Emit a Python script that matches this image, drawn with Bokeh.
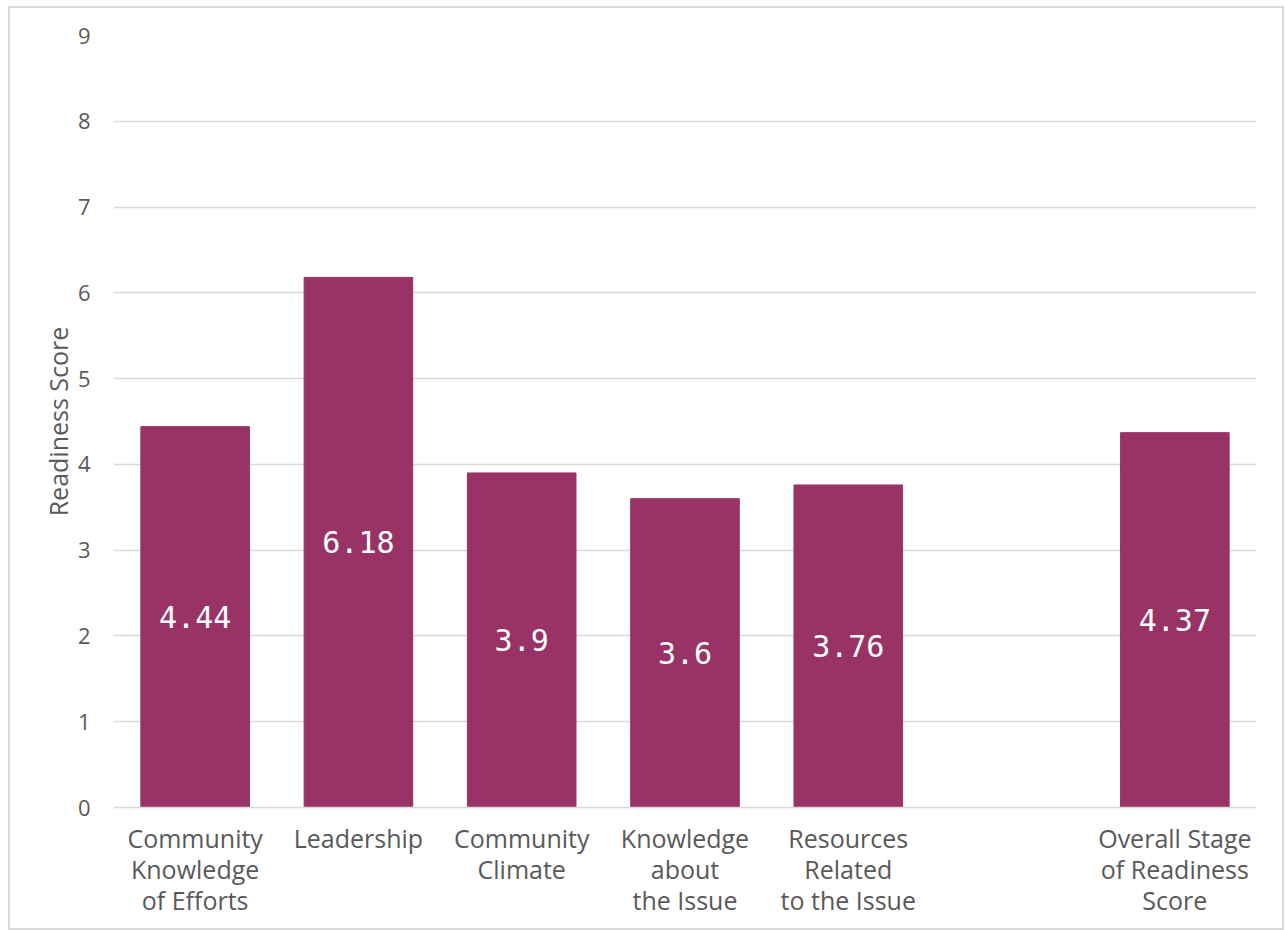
from bokeh.plotting import figure
from bokeh.models import ColumnDataSource, FactorRange, Range1d, FixedTicker, LabelSet
from bokeh.core.properties import value
from bokeh.embed import file_html
from bokeh.resources import INLINE

categories = ["Community\nKnowledge\nof Efforts", "Leadership", "Community\nClimate",
              "Knowledge\nabout\nthe Issue", "Resources\nRelated\nto the Issue", " ",
              "Overall Stage\nof Readiness\nScore"]
bar_categories = [c for c in categories if c.strip()]
values = [4.44, 6.18, 3.9, 3.6, 3.76, 4.37]
label_texts = ["4.44", "6.18", "3.9", "3.6", "3.76", "4.37"]
y_ticks = [0, 1, 2, 3, 4, 5, 6, 7, 8, 9]

src = ColumnDataSource(dict(x=bar_categories, top=values,
                            mid=[v / 2 for v in values], txt=label_texts))

p = figure(x_range=FactorRange(*categories), y_range=Range1d(0, 9),
           width=1276, height=924, output_backend="svg", toolbar_location=None,
           min_border_left=103, min_border_right=30, min_border_top=27, min_border_bottom=125)
p.styles = {"border": "2px solid #d9d9d9", "box-sizing": "border-box",
            "margin-left": "8px", "margin-top": "6px"}
p.x_range.range_padding = 0
p.outline_line_color = None

p.vbar(x="x", top="top", width=0.665, source=src, color="#993366")
p.add_layout(LabelSet(x="x", y="mid", text="txt", source=src, text_color="white",
                      text_font=value("DejaVu Sans Mono"), text_font_size="30px",
                      text_align="center", text_baseline="middle"))

p.xgrid.grid_line_color = None
p.ygrid.grid_line_color = "#d9d9d9"
p.ygrid.grid_line_width = 1.5
p.yaxis.ticker = FixedTicker(ticks=y_ticks)

p.yaxis.axis_line_color = None
p.yaxis.major_tick_line_color = None
p.yaxis.minor_tick_line_color = None
p.yaxis.major_label_text_font = "Open Sans"
p.yaxis.major_label_text_font_size = "22px"
p.yaxis.major_label_text_color = "#595959"
p.yaxis.major_label_standoff = 17
p.yaxis.axis_label = "Readiness Score"
p.yaxis.axis_label_text_font = "Open Sans"
p.yaxis.axis_label_text_font_size = "25px"
p.yaxis.axis_label_text_font_style = "normal"
p.yaxis.axis_label_text_color = "#595959"
p.yaxis.axis_label_standoff = 0

p.xaxis.axis_line_color = "#d9d9d9"
p.xaxis.axis_line_width = 1.5
p.xaxis.major_tick_line_color = None
p.xaxis.minor_tick_line_color = None
p.xaxis.major_label_text_font = "Open Sans"
p.xaxis.major_label_text_font_size = "25px"
p.xaxis.major_label_text_color = "#595959"
p.xaxis.major_label_text_line_height = 0.92
p.xaxis.major_label_standoff = 7

open("out.html", "w").write(file_html(p, INLINE))
